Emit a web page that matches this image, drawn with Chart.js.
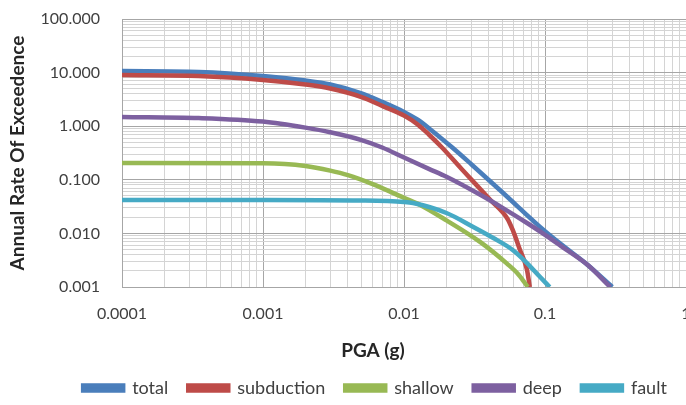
<!DOCTYPE html>
<html>
<head>
<meta charset="utf-8">
<script src="https://cdn.jsdelivr.net/npm/chart.js@4/dist/chart.umd.min.js"></script>
<style>
  html, body { margin: 0; padding: 0; background: #fff; overflow: hidden; }
  #wrap { width: 686px; height: 405px; }
</style>
</head>
<body>
<div id="wrap"><canvas id="grafico" width="686" height="405"></canvas></div>
<script>
// valores (PGA em g, taxa anual)
var pgaTotal = [0.0001, 0.00035, 0.001, 0.002, 0.003, 0.005, 0.007, 0.01, 0.0125, 0.015, 0.022, 0.03, 0.05, 0.1, 0.15, 0.2, 0.3];
var total    = [10.7, 10.3, 8.65, 7.1, 6.0, 4.1, 2.85, 1.85, 1.32, 0.92, 0.40, 0.195, 0.058, 0.011, 0.0047, 0.0026, 0.001];

var pgaSubduction = [0.0001, 0.00035, 0.001, 0.002, 0.003, 0.005, 0.007, 0.01, 0.0125, 0.015, 0.0186, 0.026, 0.041, 0.054, 0.059, 0.0665, 0.0745, 0.078];
var subduction    = [9.0, 8.65, 7.3, 6.0, 5.05, 3.5, 2.4, 1.58, 1.08, 0.70, 0.40, 0.152, 0.042, 0.019, 0.0116, 0.0049, 0.0021, 0.001];

var pgaShallow = [0.0001, 0.001, 0.002, 0.003, 0.004, 0.006, 0.01, 0.013, 0.02, 0.035, 0.054, 0.065, 0.0755];
var shallow    = [0.206, 0.203, 0.181, 0.148, 0.122, 0.083, 0.046, 0.034, 0.0175, 0.0068, 0.0027, 0.0017, 0.001];

var pgaDeep = [0.0001, 0.00035, 0.001, 0.002, 0.003, 0.005, 0.007, 0.01, 0.015, 0.02, 0.035, 0.05, 0.078, 0.1, 0.13, 0.2, 0.29];
var deep    = [1.49, 1.42, 1.22, 0.94, 0.77, 0.55, 0.40, 0.26, 0.16, 0.114, 0.052, 0.030, 0.0145, 0.0094, 0.0058, 0.0026, 0.001];

var pgaFault = [0.0001, 0.001, 0.005, 0.01, 0.0116, 0.02, 0.031, 0.043, 0.059, 0.0745, 0.092, 0.108];
var fault    = [0.042, 0.042, 0.041, 0.0385, 0.0368, 0.024, 0.0132, 0.0082, 0.0049, 0.0028, 0.00155, 0.001];

var xTickLabels = ['0.0001', '0.001', '0.01', '0.1', '1'];
var yTickLabels = ['0.001', '0.010', '0.100', '1.000', '10.000', '100.000'];

var tituloX = 'PGA (g)';
var tituloY = 'Annual Rate Of Exceedence';

var nomes = ['total', 'subduction', 'shallow', 'deep', 'fault'];
var cores = ['#4a7ebb', '#be4b48', '#98b954', '#7d60a0', '#46aac5'];

function pontos(xs, ys) {
    return xs.map(function (x, i) { return { x: x, y: ys[i] }; });
}

// ticks 1..9 x 10^n para as linhas de grade menores
function ticksLog(min, max) {
    var lista = [];
    for (var e = Math.log10(min); e < Math.log10(max); e++) {
        for (var m = 1; m < 10; m++) lista.push({ value: m * Math.pow(10, e) });
    }
    lista.push({ value: max });
    return lista;
}
function ehDecada(v) {
    var l = Math.log10(v);
    return Math.abs(l - Math.round(l)) < 1e-9;
}

var series = [pontos(pgaTotal, total), pontos(pgaSubduction, subduction), pontos(pgaShallow, shallow),
              pontos(pgaDeep, deep), pontos(pgaFault, fault)];

var dados = {
    datasets: series.map(function (s, i) {
        return {
            label: nomes[i],
            data: s,
            borderColor: cores[i],
            backgroundColor: cores[i],
            borderWidth: 4.5,
            pointRadius: 0,
            cubicInterpolationMode: 'monotone',
            order: 5 - i
        };
    })
};

var fonte = "Lato, 'Open Sans', sans-serif";

// legenda e titulo do eixo x ficam deslocados para a esquerda no excel
const ajusteLegenda = {
    id: 'ajusteLegenda',
    afterLayout: function (chart) {
        var l = chart.legend;
        l.left += 32; l.right += 32;
        l.top += 2; l.bottom += 2;
    },
    afterDraw: function (chart) {
        var ctx = chart.ctx;
        ctx.save();
        ctx.font = "bold 19px " + fonte;
        ctx.fillStyle = '#262626';
        ctx.textAlign = 'center';
        ctx.textBaseline = 'middle';
        ctx.fillText(tituloX, 373, 351);
        ctx.restore();
    }
};

function corGrade(ctx) {
    return ctx.tick && ehDecada(ctx.tick.value) ? '#a6a6a6' : '#d4d4d4';
}

const config = {
    type: 'line',
    data: dados,
    plugins: [ajusteLegenda],
    options: {
        responsive: false,
        animation: false,
        layout: { padding: { top: 19, left: 0, right: 0, bottom: 0 } },
        plugins: {
            tooltip: { enabled: false },
            legend: {
                position: 'bottom',
                labels: {
                    boxWidth: 40,
                    boxHeight: 5,
                    padding: 20,
                    color: '#404040',
                    font: { family: fonte, size: 18 },
                    sort: function (a, b) { return a.datasetIndex - b.datasetIndex; }
                }
            }
        },
        scales: {
            x: {
                type: 'logarithmic',
                min: 0.0001,
                max: 1,
                afterBuildTicks: function (scale) { scale.ticks = ticksLog(0.0001, 1); },
                afterFit: function (scale) {
                    scale.height = 405 - 287 - scale.chart.legend.height;
                    scale.paddingRight = 0;
                },
                ticks: {
                    autoSkip: false,
                    maxRotation: 0,
                    padding: 17,
                    color: '#404040',
                    font: { family: fonte, size: 16 },
                    callback: function (v) {
                        if (!ehDecada(v)) return '';
                        return xTickLabels[Math.round(Math.log10(v)) + 4];
                    }
                },
                grid: { drawTicks: false, color: corGrade },
                border: { color: '#a6a6a6' },
                title: { display: false }
            },
            y: {
                type: 'logarithmic',
                min: 0.001,
                max: 100,
                afterBuildTicks: function (scale) { scale.ticks = ticksLog(0.001, 100); },
                afterFit: function (scale) {
                    scale.width = 122;
                    scale.paddingTop = 0;
                    scale.paddingBottom = 0;
                },
                ticks: {
                    autoSkip: false,
                    padding: 22,
                    color: '#404040',
                    font: { family: fonte, size: 16 },
                    callback: function (v) {
                        if (!ehDecada(v)) return '';
                        return yTickLabels[Math.round(Math.log10(v)) + 3];
                    }
                },
                grid: { drawTicks: false, color: corGrade },
                border: { color: '#a6a6a6' },
                title: {
                    display: true,
                    text: tituloY,
                    color: '#262626',
                    font: { family: fonte, size: 19, weight: 'bold', lineHeight: 1 },
                    padding: { top: 8, bottom: 0 }
                }
            }
        }
    }
};

const cof = document.getElementById('grafico').getContext('2d');
window.myChart = new Chart(cof, config);
</script>
</body>
</html>
